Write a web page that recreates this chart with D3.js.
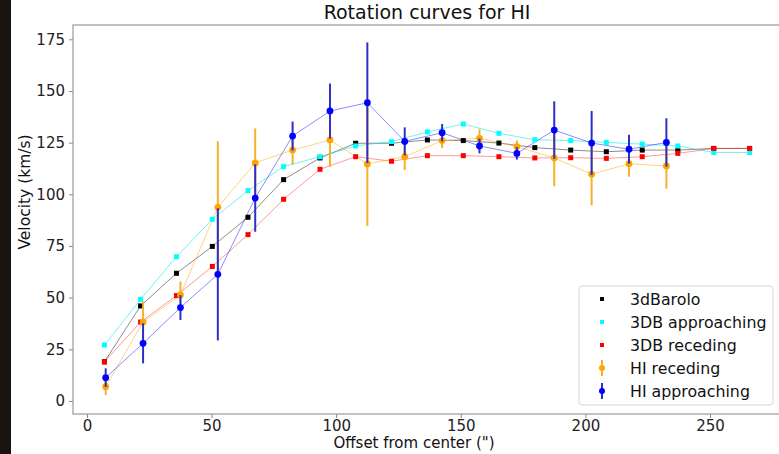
<!DOCTYPE html>
<html>
<head>
<meta charset="utf-8">
<script src="https://cdn.jsdelivr.net/npm/d3@7"></script>
<style>
  body { margin: 0; background: #fff; }
  svg { display: block; font-family: "DejaVu Sans", sans-serif; }
</style>
</head>
<body>
<div id="chart"></div>
<script>
// 3dBarolo ring radii (") and velocities (km/s)
const rBarolo = [7.0, 21.5, 35.9, 50.3, 64.6, 78.9, 93.5, 107.8, 122.2, 136.6, 151.0, 165.3, 179.7, 194.1, 208.4, 222.8, 237.1, 251.5, 265.9];
const vBarolo = [19.0, 46.0, 61.8, 74.8, 88.9, 107.1, 117.6, 124.7, 124.7, 126.3, 126.0, 124.8, 122.6, 121.4, 120.6, 121.4, 121.4, 122.2, 122.2];
const v3dbApp = [27.1, 49.2, 69.8, 87.9, 101.8, 113.4, 118.2, 123.4, 125.5, 130.2, 134.0, 129.5, 126.4, 126.0, 125.1, 124.3, 123.4, 120.2, 120.2];
const v3dbRec = [18.9, 38.2, 51.0, 65.1, 80.5, 97.6, 112.1, 118.2, 116.0, 118.7, 118.7, 118.2, 117.6, 117.7, 117.4, 118.2, 119.8, 122.2, 122.2];

// HI rotation curve
const rHI = [7.5, 22.5, 37.5, 52.5, 67.5, 82.5, 97.5, 112.5, 127.5, 142.5, 157.5, 172.5, 187.5, 202.5, 217.5, 232.5];
const vHIRec = [6.9, 38.2, 51.3, 93.7, 115.2, 121.4, 126.3, 114.7, 118.2, 126.0, 127.1, 123.1, 117.6, 109.7, 114.8, 113.7];
const eHIRec = [4, 10, 6.5, 32, 16.7, 7, 13, 30, 6.4, 3.7, 4.4, 3, 13.7, 15, 6.3, 11];
const vHIApp = [11.3, 27.9, 45.2, 61.3, 98.2, 128.2, 140.3, 144.3, 125.6, 129.8, 123.4, 119.8, 131.1, 124.8, 121.8, 125.1];
const eHIApp = [4.5, 9.7, 6, 32, 16.3, 7, 13.3, 29.2, 6.8, 4.2, 3.6, 3, 13.9, 15.5, 7, 11.7];

const xTicks = [0, 50, 100, 150, 200, 250];
const yTicks = [0, 25, 50, 75, 100, 125, 150, 175];

const W = 779, H = 454;
const frame = { left: 73, top: 25, right: 790, bottom: 414 };

const svg = d3.select('#chart').append('svg')
  .attr('width', W).attr('height', H);

svg.append('rect').attr('width', W).attr('height', H).attr('fill', '#fff');
// dark strip on the left edge of the screenshot
svg.append('rect').attr('width', 11).attr('height', H).attr('fill', '#19130f');

const x = d3.scaleLinear().domain([0, 250]).range([87, 710]);
const y = d3.scaleLinear().domain([0, 175]).range([401, 39.3]);

svg.append('defs').append('clipPath').attr('id', 'clip')
  .append('rect')
  .attr('x', frame.left).attr('y', frame.top)
  .attr('width', frame.right - frame.left).attr('height', frame.bottom - frame.top);

// axes
const xAxis = svg.append('g')
  .attr('transform', 'translate(0,' + frame.bottom + ')')
  .call(d3.axisBottom(x).tickValues(xTicks).tickSize(4).tickPadding(2));
const yAxis = svg.append('g')
  .attr('transform', 'translate(' + frame.left + ',0)')
  .call(d3.axisLeft(y).tickValues(yTicks).tickSize(4).tickPadding(4));

[xAxis, yAxis].forEach(a => {
  a.select('.domain').remove();
  a.selectAll('line').attr('stroke', '#888');
  a.selectAll('text').attr('font-size', 15).attr('fill', '#222')
    .attr('font-family', '"DejaVu Sans", sans-serif');
});

svg.append('rect')
  .attr('x', frame.left).attr('y', frame.top)
  .attr('width', frame.right - frame.left).attr('height', frame.bottom - frame.top)
  .attr('fill', 'none').attr('stroke', '#999').attr('stroke-width', 1.2);

svg.append('text')
  .attr('x', 427).attr('y', 19)
  .attr('text-anchor', 'middle').attr('font-size', 19).attr('fill', '#111')
  .text('Rotation curves for HI');

svg.append('text')
  .attr('x', 414).attr('y', 448)
  .attr('text-anchor', 'middle').attr('font-size', 15).attr('fill', '#111')
  .text('Offset from center (")');

svg.append('text')
  .attr('transform', 'translate(30,192) rotate(-90)')
  .attr('text-anchor', 'middle').attr('font-size', 15.5).attr('fill', '#111')
  .text('Velocity (km/s)');

const plot = svg.append('g').attr('clip-path', 'url(#clip)');

const line = d3.line().x(d => x(d[0])).y(d => y(d[1]));
const zip = (a, b) => a.map((v, i) => [v, b[i]]);

const series3db = [
  { v: vBarolo, color: 'black', lineColor: '#000', op: 0.45 },
  { v: v3dbApp, color: '#00ffff', lineColor: '#00e5e5', op: 0.55 },
  { v: v3dbRec, color: '#ff0000', lineColor: '#ff0000', op: 0.4 }
];
const seriesHI = [
  { v: vHIRec, e: eHIRec, color: '#ffa500', lineColor: '#ffa500', bar: '#f7b02a', op: 0.5 },
  { v: vHIApp, e: eHIApp, color: '#0000ff', lineColor: '#0000ff', bar: '#2f2fc4', op: 0.45 }
];

series3db.forEach(s => {
  plot.append('path').datum(zip(rBarolo, s.v))
    .attr('d', line).attr('fill', 'none')
    .attr('stroke', s.lineColor).attr('stroke-opacity', s.op).attr('stroke-width', 1);
});
seriesHI.forEach(s => {
  plot.append('path').datum(zip(rHI, s.v))
    .attr('d', line).attr('fill', 'none')
    .attr('stroke', s.lineColor).attr('stroke-opacity', s.op).attr('stroke-width', 1);
});

series3db.forEach(s => {
  plot.selectAll(null).data(zip(rBarolo, s.v)).enter().append('rect')
    .attr('x', d => x(d[0]) - 2.5).attr('y', d => y(d[1]) - 2.5)
    .attr('width', 5).attr('height', 5).attr('fill', s.color);
});

seriesHI.forEach(s => {
  const pts = rHI.map((r, i) => ({ r: r, v: s.v[i], e: s.e[i] }));
  plot.selectAll(null).data(pts).enter().append('line')
    .attr('x1', d => x(d.r)).attr('x2', d => x(d.r))
    .attr('y1', d => y(d.v - d.e)).attr('y2', d => y(d.v + d.e))
    .attr('stroke', s.bar).attr('stroke-width', 2);
  plot.selectAll(null).data(pts).enter().append('circle')
    .attr('cx', d => x(d.r)).attr('cy', d => y(d.v))
    .attr('r', 3.4).attr('fill', s.color);
});

// legend
const lg = svg.append('g');
lg.append('rect')
  .attr('x', 579).attr('y', 286).attr('width', 194).attr('height', 119)
  .attr('rx', 3).attr('fill', '#fff').attr('fill-opacity', 0.85)
  .attr('stroke', '#d5d5d5');

const legendItems = [
  { label: '3dBarolo', color: 'black', type: 'sq' },
  { label: '3DB approaching', color: '#00ffff', type: 'sq' },
  { label: '3DB receding', color: '#ff0000', type: 'sq' },
  { label: 'HI receding', color: '#ffa500', bar: '#f7b02a', type: 'eb' },
  { label: 'HI approaching', color: '#0000ff', bar: '#2f2fc4', type: 'eb' }
];
legendItems.forEach((d, i) => {
  const cy = 299 + i * 23;
  const g = lg.append('g');
  if (d.type === 'sq') {
    g.append('rect').attr('x', 600).attr('y', cy - 2).attr('width', 4).attr('height', 4).attr('fill', d.color);
  } else {
    g.append('line').attr('x1', 602).attr('x2', 602).attr('y1', cy - 8).attr('y2', cy + 8)
      .attr('stroke', d.bar).attr('stroke-width', 2);
    g.append('circle').attr('cx', 602).attr('cy', cy).attr('r', 3).attr('fill', d.color);
  }
  g.append('text').attr('x', 630).attr('y', cy + 5.5)
    .attr('font-size', 15.8).attr('fill', '#111').text(d.label);
});
</script>
</body>
</html>
